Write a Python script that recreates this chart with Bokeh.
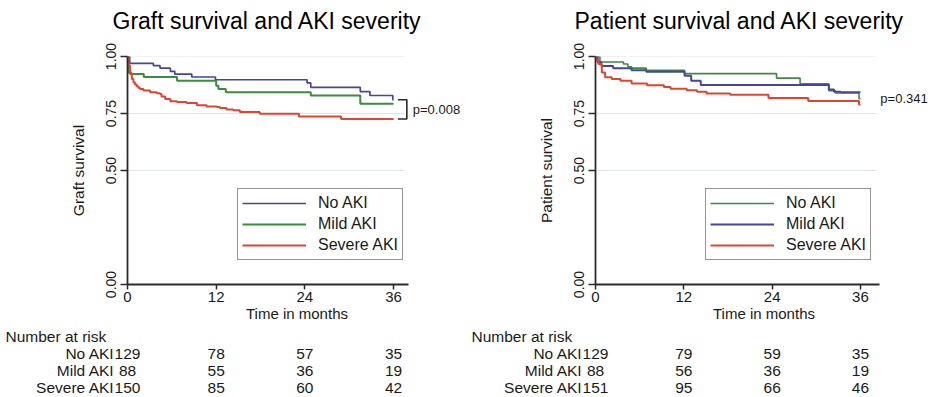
from bokeh.plotting import figure
from bokeh.models import Range1d, FixedTicker, NumeralTickFormatter, Title
from bokeh.layouts import row, column
from bokeh.embed import file_html
from bokeh.resources import INLINE
from bokeh.core.properties import value

FONT = "Liberation Sans"

# ---------------- data: graft survival ----------------
graft_no_t = [0, 0.3, 3.5, 4.4, 5.8, 6.4, 8.7, 11.9, 24.3, 24.8, 31.5, 32.8, 35.9, 36]
graft_no_s = [1.0, 0.97, 0.96, 0.949, 0.935, 0.923, 0.91, 0.898, 0.884, 0.865, 0.846, 0.829, 0.81, 0.81]
graft_mild_t = [0, 0.1, 0.5, 2.2, 6.7, 12.0, 12.3, 13.3, 24.8, 31.5, 36]
graft_mild_s = [1.0, 0.93, 0.923, 0.91, 0.894, 0.872, 0.857, 0.843, 0.829, 0.793, 0.793]
graft_sev_t = [0, 0.15, 0.35, 0.58, 0.8, 1.0, 1.26, 1.5, 1.7, 2.16, 3.06, 3.96, 4.4, 4.6, 5.1,
               5.8, 6.7, 8.0, 9.4, 10.7, 12.1, 12.5, 13.4, 14.3, 15.2, 17.9, 23.2, 28.9, 36]
graft_sev_s = [1.0, 0.96, 0.923, 0.901, 0.887, 0.877, 0.868, 0.862, 0.858, 0.851, 0.843, 0.839,
               0.836, 0.825, 0.814, 0.804, 0.800, 0.796, 0.786, 0.781, 0.778, 0.774, 0.768,
               0.764, 0.757, 0.749, 0.737, 0.726, 0.726]

# ---------------- data: patient survival ----------------
pat_no_t = [0, 0.6, 3.8, 4.4, 4.9, 6.9, 12.1, 24.6, 27.8, 31.7, 32.6, 35.8, 36]
pat_no_s = [1.0, 0.976, 0.967, 0.955, 0.949, 0.94, 0.925, 0.905, 0.88, 0.85, 0.84, 0.815, 0.815]
pat_mild_t = [0, 0.3, 0.8, 2.4, 4.9, 6.9, 12.1, 13.0, 14.3, 31.7, 32.4, 33.3, 36]
pat_mild_s = [1.0, 0.975, 0.958, 0.949, 0.94, 0.933, 0.916, 0.894, 0.875, 0.855, 0.845, 0.843, 0.843]
pat_sev_t = [0, 0.15, 0.4, 0.86, 1.3, 2.2, 3.4, 4.9, 7.0, 9.3, 10.2, 12.4, 13.8, 15.1, 18.3,
             23.5, 28.9, 35.8, 36]
pat_sev_s = [1.0, 0.985, 0.967, 0.93, 0.909, 0.901, 0.894, 0.882, 0.874, 0.866, 0.859, 0.852,
             0.845, 0.838, 0.832, 0.818, 0.805, 0.79, 0.79]

# ---------------- number at risk ----------------
risk_times = [0, 12, 24, 36]
risk_groups = ["No AKI", "Mild AKI", "Severe AKI"]
graft_risk_no = [129, 78, 57, 35]
graft_risk_mild = [88, 55, 36, 19]
graft_risk_sev = [150, 85, 60, 42]
pat_risk_no = [129, 79, 59, 35]
pat_risk_mild = [88, 56, 36, 19]
pat_risk_sev = [151, 95, 66, 46]

x_ticks = [0, 12, 24, 36]
y_ticks = [0, 0.5, 0.75, 1.0]

BLUE = "#45459c"
GREEN = "#3a8c40"
RED = "#e2442e"
AXIS = "#2a2a2a"
TXT = "#1a1a1a"

W = 466
H_MAIN = 325
H_TAB = 397 - H_MAIN
ROW0 = 11      # px from table top to the "Number at risk" row centre
ROW_STEP = 17  # px between table rows


def make_panel(title, title_off, ylabel, series, risks, pval, bracket, bl, axis_end, pxu):
    xmax = (W - bl) / pxu
    p = figure(width=W, height=H_MAIN, x_range=Range1d(0, xmax), y_range=Range1d(0, 1.0),
               output_backend="svg", toolbar_location=None, title=None,
               min_border_left=bl, min_border_right=0, min_border_top=54, min_border_bottom=41)
    p.outline_line_color = None
    p.background_fill_color = "white"
    p.border_fill_color = "white"

    # spacer closest to the frame, then the real title further out
    p.add_layout(Title(text=" ", text_font_size="6px"), "above")
    p.add_layout(Title(text=title, align="left", offset=title_off, text_font=FONT,
                       text_font_size="23px", text_font_style="normal", text_color="black"),
                 "above")

    for ax in (p.xaxis[0], p.yaxis[0]):
        ax.axis_line_color = AXIS
        ax.axis_line_width = 1.8
        ax.major_tick_line_color = AXIS
        ax.major_tick_line_width = 1.5
        ax.major_tick_in = 0
        ax.minor_tick_line_color = None
        ax.major_label_text_font = FONT
        ax.major_label_text_color = TXT
        ax.axis_label_text_font = FONT
        ax.axis_label_text_font_style = "normal"
        ax.axis_label_text_color = TXT

    p.xaxis.ticker = FixedTicker(ticks=x_ticks)
    p.xaxis.bounds = (0, axis_end)
    p.xaxis.major_tick_out = 5
    p.xaxis.major_label_standoff = 2
    p.xaxis.major_label_text_font_size = "15px"
    p.xaxis.axis_label = "Time in months"
    p.xaxis.axis_label_text_font_size = "15px"
    p.xaxis.axis_label_standoff = 0

    p.yaxis.ticker = FixedTicker(ticks=y_ticks)
    p.yaxis.formatter = NumeralTickFormatter(format="0.00")
    p.yaxis.major_label_orientation = "vertical"
    p.yaxis.major_tick_out = 7
    p.yaxis.major_label_standoff = 5
    p.yaxis.major_label_text_font_size = "14px"
    p.yaxis.axis_label = ylabel
    p.yaxis.axis_label_text_font_size = "15.5px"
    p.yaxis.axis_label_standoff = 16

    p.grid.visible = False
    # horizontal grid lines, limited to the plot region
    p.segment(x0=[0] * len(y_ticks), x1=[axis_end - 0.5] * len(y_ticks), y0=y_ticks, y1=y_ticks,
              line_color="#e0e6ea", line_width=1.2)

    for name, t, s, color, lw in series:
        p.step(t, s, mode="after", line_color=color, line_width=lw, legend_label=name)

    leg = p.legend[0]
    leg.location = (110, 24)
    leg.border_line_color = AXIS
    leg.border_line_width = 1.5
    leg.background_fill_color = "white"
    leg.background_fill_alpha = 1
    leg.label_text_font = FONT
    leg.label_text_font_size = "16px"
    leg.label_text_color = TXT
    leg.glyph_width = 64
    leg.glyph_height = 20
    leg.label_height = 20
    leg.spacing = 1
    leg.padding = 4
    leg.margin = 0
    leg.label_standoff = 12

    ends = [s[-1] for _, _, s, _, _ in series]
    if bracket:
        top, bot = max(ends), min(ends)
        p.line([36.6, 37.8, 37.8, 36.6], [top, top, bot, bot], line_color=AXIS, line_width=1.6)
        p.text(x=[38.6], y=[(top + bot) / 2], text=[pval], text_font=value(FONT),
               text_font_size="13px", text_color=TXT, text_baseline="middle", text_align="left")
    else:
        p.text(x=[axis_end + 0.1], y=[sum(ends) / len(ends)], text=[pval], text_font=value(FONT),
               text_font_size="13px", text_color=TXT, text_baseline="middle", text_align="left")

    # number at risk table
    x0 = -bl / pxu
    x1 = (W - bl) / pxu
    y_top = -ROW0 / ROW_STEP
    y_bot = (H_TAB - ROW0) / ROW_STEP
    tf = figure(width=W, height=H_TAB, x_range=Range1d(x0, x1), y_range=Range1d(y_bot, y_top),
                output_backend="svg", toolbar_location=None, min_border=0,
                min_border_left=0, min_border_right=0, min_border_top=0, min_border_bottom=0,
                x_axis_location=None, y_axis_location=None)
    tf.outline_line_color = None
    tf.grid.visible = False
    tf.text(x=[x0 + 5 / pxu], y=[0], text=["Number at risk"], text_align="left",
            text_baseline="middle", text_font=value(FONT), text_font_size="15.5px", text_color=TXT)
    tf.text(x=[-13 / pxu] * 3, y=[1, 2, 3], text=risk_groups, text_align="right",
            text_baseline="middle", text_font=value(FONT), text_font_size="15.5px", text_color=TXT)
    for i, vals in enumerate(risks):
        tf.text(x=risk_times, y=[i + 1] * len(vals), text=[str(v) for v in vals],
                text_align="center", text_baseline="middle", text_font=value(FONT),
                text_font_size="15.5px", text_color=TXT)
    return p, tf


p1, t1 = make_panel(
    "Graft survival and AKI severity", -15, "Graft survival",
    [("No AKI", graft_no_t, graft_no_s, BLUE, 1.7),
     ("Mild AKI", graft_mild_t, graft_mild_s, GREEN, 2.0),
     ("Severe AKI", graft_sev_t, graft_sev_s, RED, 2.0)],
    [graft_risk_no, graft_risk_mild, graft_risk_sev],
    "p=0.008", True, 127, 38.0, 7.39)

p2, t2 = make_panel(
    "Patient survival and AKI severity", -21, "Patient survival",
    [("No AKI", pat_no_t, pat_no_s, GREEN, 1.6),
     ("Mild AKI", pat_mild_t, pat_mild_s, BLUE, 2.0),
     ("Severe AKI", pat_sev_t, pat_sev_s, RED, 2.0)],
    [pat_risk_no, pat_risk_mild, pat_risk_sev],
    "p=0.341", False, 129, 38.6, 7.36)

layout = column(row(p1, p2), row(t1, t2))
open("out.html", "w").write(file_html(layout, INLINE))
